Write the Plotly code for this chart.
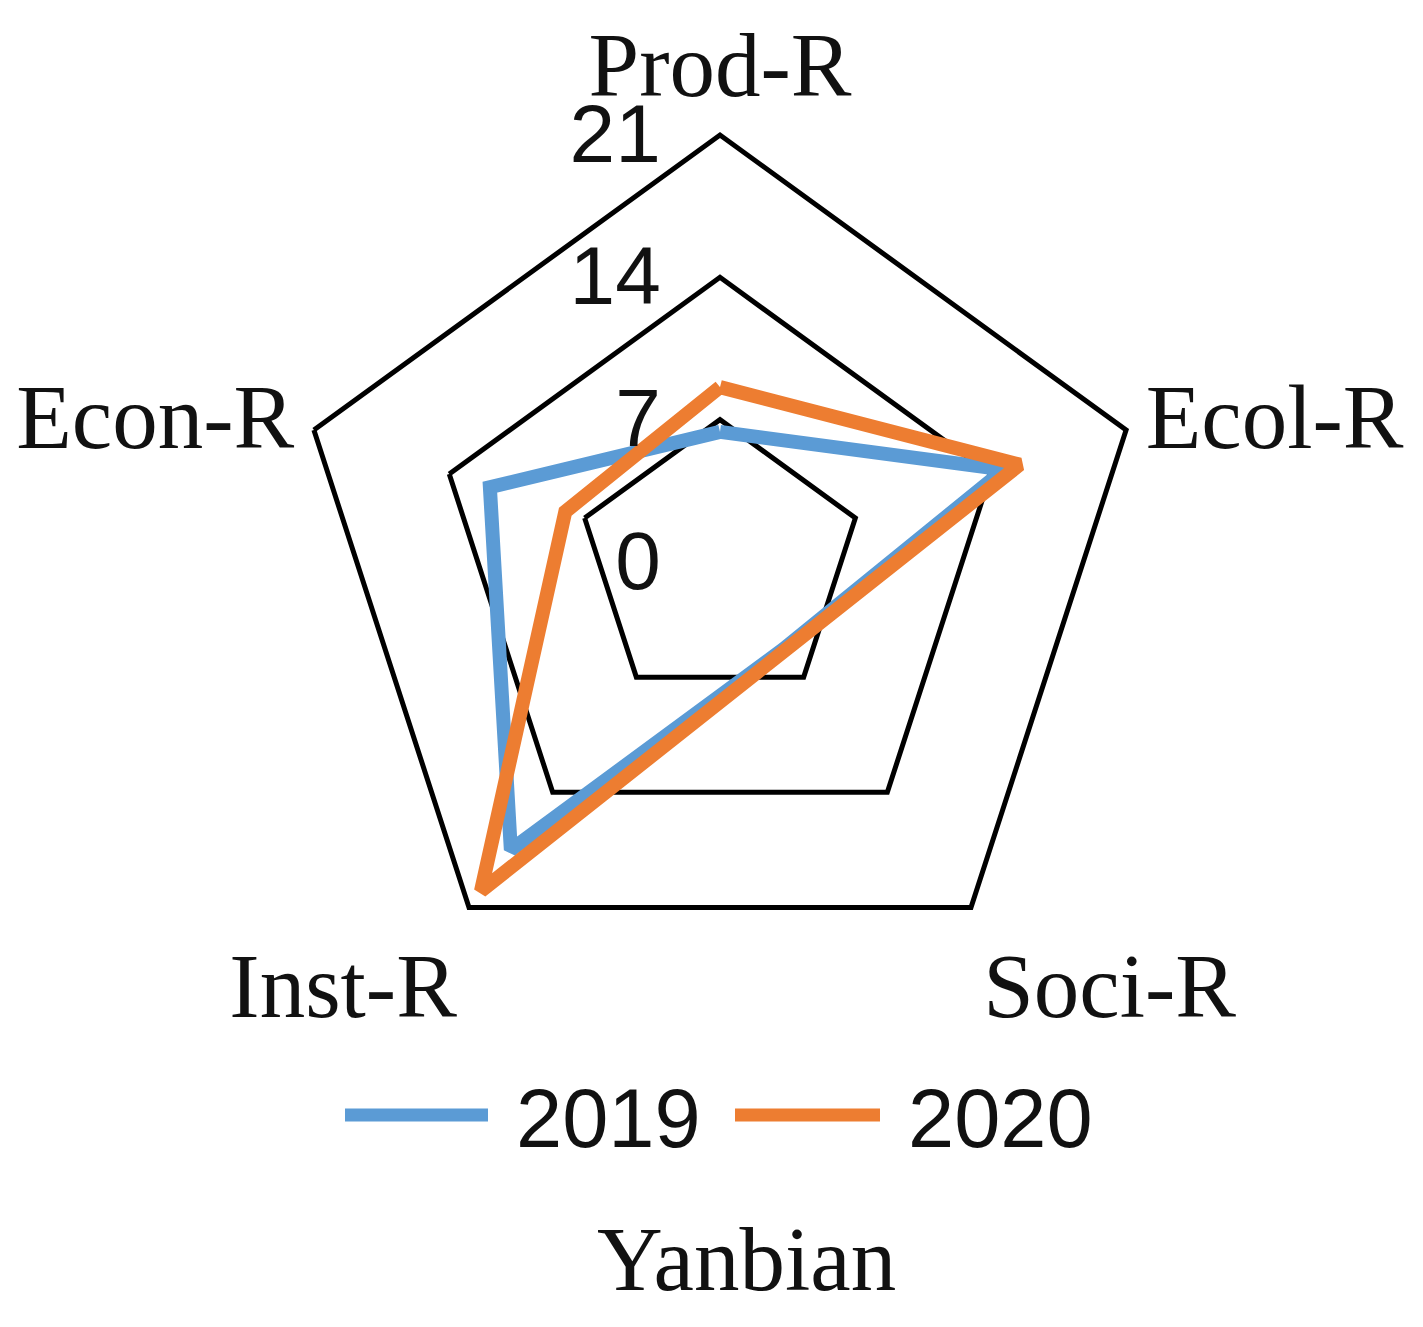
import plotly.graph_objects as go

# ---- data ----
categories = ["Prod-R", "Ecol-R", "Soci-R", "Inst-R", "Econ-R"]
values_2019 = [6.4, 14.7, 5.3, 17.5, 11.9]
values_2020 = [8.6, 15.5, 5.4, 20.0, 8.0]
series_names = ["2019", "2020"]
radial_ticks = [0, 7, 14, 21]
title_text = "Yanbian"

W, H = 1423, 1327
OFF = 8  # page body margin offset
colors = ["#5B9BD5", "#ED7D31"]
serif = "Liberation Serif, Times New Roman, serif"
sans = "Liberation Sans, Arial, sans-serif"


def px_x(x):
    return (x - OFF) / W


def px_y(y):
    return 1 - (y - OFF) / H


fig = go.Figure()
for name, vals, col in zip(series_names, [values_2019, values_2020], colors):
    fig.add_trace(go.Scatterpolar(
        r=vals + [vals[0]],
        theta=categories + [categories[0]],
        mode="lines",
        name=name,
        line=dict(color=col, width=14),
        showlegend=False,
    ))

cx, cy, R = 720, 562, 427
fig.update_layout(
    width=W, height=H,
    margin=dict(l=0, r=0, t=0, b=0),
    paper_bgcolor="white",
    plot_bgcolor="white",
    showlegend=False,
    polar=dict(
        bgcolor="white",
        gridshape="linear",
        domain=dict(x=[px_x(cx - R), px_x(cx + R)], y=[px_y(cy + R), px_y(cy - R)]),
        angularaxis=dict(
            rotation=90,
            direction="clockwise",
            showgrid=False,
            showline=True,
            linecolor="black",
            linewidth=5,
            ticks="",
            tickfont=dict(family=serif, size=91, color="#111111"),
        ),
        radialaxis=dict(
            range=[0, 21],
            tickvals=radial_ticks,
            ticktext=[str(v) for v in radial_ticks],
            showline=False,
            gridcolor="black",
            gridwidth=5,
            angle=90,
            tickangle=90,
            side="counterclockwise",
            ticks="outside",
            ticklen=30,
            tickcolor="rgba(0,0,0,0)",
            tickfont=dict(family=sans, size=82, color="#111111"),
        ),
    ),
)

# custom legend (long line samples)
legend_items = [(345, 488, 514), (735, 880, 906)]
for (x0, x1, tx), name, col in zip(legend_items, series_names, colors):
    fig.add_shape(type="line", xref="paper", yref="paper",
                  x0=px_x(x0), x1=px_x(x1), y0=px_y(1115), y1=px_y(1115),
                  line=dict(color=col, width=13))
    fig.add_annotation(x=px_x(tx), y=px_y(1118), xref="paper", yref="paper",
                       text=name, showarrow=False, xanchor="left", yanchor="middle",
                       font=dict(family=sans, size=83, color="#111111"))

fig.add_annotation(x=px_x(746), y=px_y(1259), xref="paper", yref="paper",
                   text=title_text, showarrow=False, xanchor="center", yanchor="middle",
                   font=dict(family=serif, size=91, color="#111111"))

fig.write_html("out.html")
